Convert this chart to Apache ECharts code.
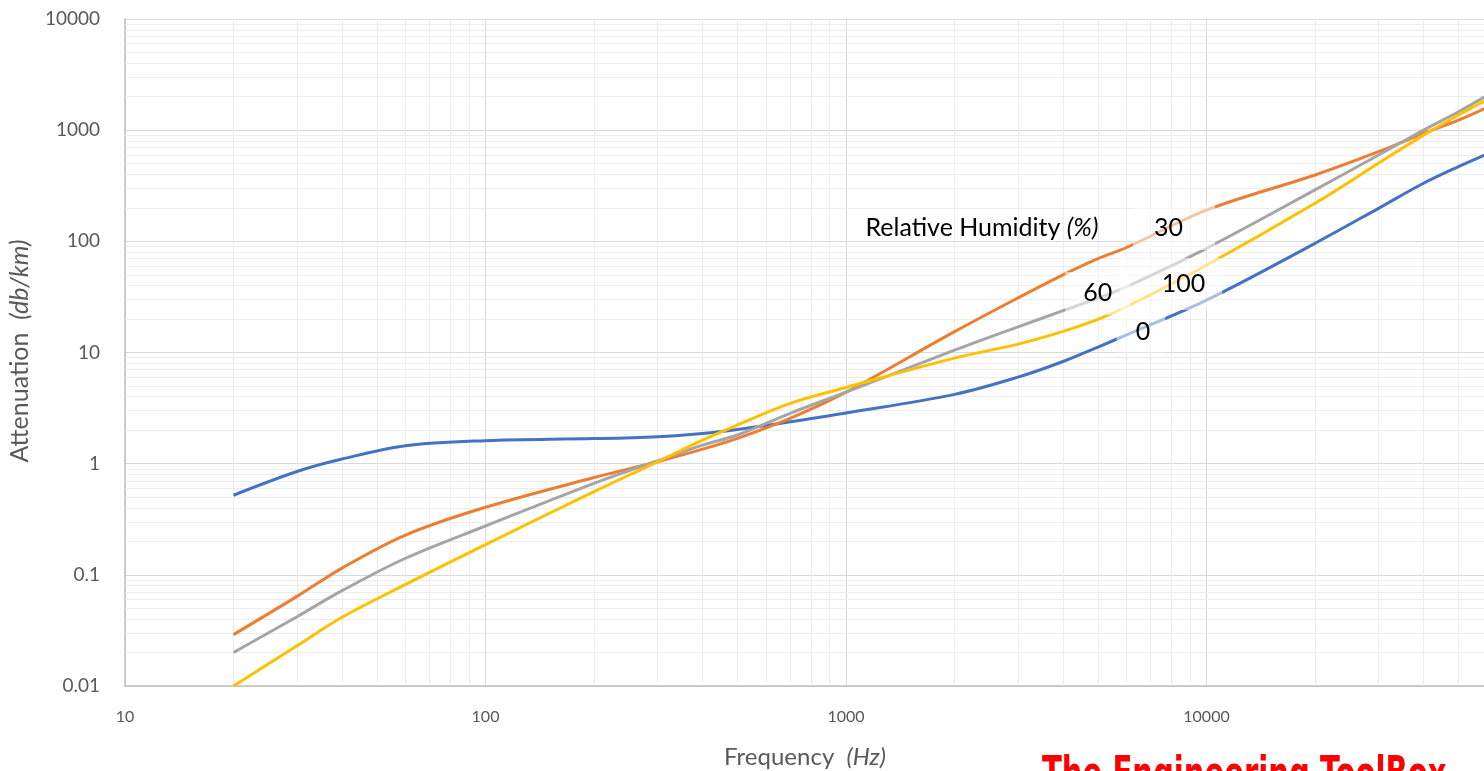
<!DOCTYPE html>
<html>
<head>
<meta charset="utf-8">
<script src="https://cdn.jsdelivr.net/npm/echarts@6/dist/echarts.min.js"></script>
<style>
  html, body { margin: 0; padding: 0; background: #fff; }
  #chart { width: 1484px; height: 771px; }
</style>
</head>
<body>
<div id="chart"></div>
<script>
var chart = echarts.init(document.getElementById('chart'));

// frequency (Hz) and attenuation (db/km) per relative humidity
const freq = [20, 30, 40, 60, 100, 200, 300, 400, 500, 700, 1000, 2000, 3000, 4000, 5000, 6000, 10000, 20000, 30000, 40000, 50000, 60000];
const rh0   = [0.52, 0.85, 1.1, 1.45, 1.61, 1.68, 1.75, 1.87, 2.03, 2.38, 2.85, 4.2, 6.0, 8.3, 11.2, 14.4, 29.6, 96, 198, 333, 470, 610];
const rh30  = [0.029, 0.064, 0.115, 0.228, 0.405, 0.75, 1.04, 1.35, 1.69, 2.56, 4.4, 15.4, 31, 50, 70, 88, 191, 395, 640, 937, 1230, 1600];
const rh60  = [0.020, 0.042, 0.072, 0.141, 0.275, 0.665, 1.06, 1.47, 1.81, 2.84, 4.4, 10.5, 17, 23.8, 30.8, 39, 86.5, 290, 598, 1000, 1466, 2050];
const rh100 = [0.010, 0.023, 0.0415, 0.082, 0.187, 0.56, 1.04, 1.63, 2.23, 3.49, 4.85, 8.9, 11.9, 15.5, 19.9, 25.8, 61, 220, 504, 902, 1370, 1880];

// minor grid values (2..9 of every decade)
const xMinor = [20, 30, 40, 50, 60, 70, 80, 90, 200, 300, 400, 500, 600, 700, 800, 900,
  2000, 3000, 4000, 5000, 6000, 7000, 8000, 9000, 20000, 30000, 40000, 50000, 60000, 70000, 80000, 90000];
const yMinor = [];
[0.01, 0.1, 1, 10, 100, 1000].forEach(d => { for (let k = 2; k <= 9; k++) yMinor.push(+(d * k).toPrecision(3)); });

const toPairs = (vals) => freq.map((f, i) => [f, vals[i]]);

const lineSeries = (name, vals, color) => ({
  name: name,
  type: 'line',
  data: toPairs(vals),
  smooth: 0.35,
  showSymbol: false,
  symbol: 'none',
  lineStyle: { width: 3, color: color },
  itemStyle: { color: color },
  z: 3
});

const fade = 'rgba(255,255,255,0.55)';
const labelFont = { fontFamily: 'Lato', fontSize: 25, color: '#000' };

var option = {
  animation: false,
  grid: { left: 125, top: 19, width: 1442, height: 667, containLabel: false, outerBoundsMode: 'none' },
  xAxis: {
    type: 'log',
    logBase: 10,
    min: 10,
    max: 100000,
    splitNumber: 4,
    axisLine: { show: true, lineStyle: { color: '#bfbfbf', width: 1.5 } },
    axisTick: { show: false },
    axisLabel: { fontFamily: 'Lato', fontSize: 16, color: '#595959', margin: 23,
      formatter: v => String(+(+v).toPrecision(6)) },
    splitLine: { show: true, lineStyle: { color: '#d9d9d9', width: 1 } }
  },
  yAxis: {
    type: 'log',
    logBase: 10,
    min: 0.01,
    max: 10000,
    splitNumber: 6,
    axisLine: { show: true, lineStyle: { color: '#bfbfbf', width: 1.5 } },
    axisTick: { show: false },
    axisLabel: { fontFamily: 'Lato', fontSize: 19, color: '#595959', margin: 25,
      formatter: v => String(+(+v).toPrecision(6)) },
    splitLine: { show: true, lineStyle: { color: '#d9d9d9', width: 1 } }
  },
  series: [
    {
      // minor gridlines
      type: 'line',
      data: [[freq[0], rh0[0]]],
      showSymbol: false,
      symbol: 'none',
      lineStyle: { opacity: 0 },
      silent: true,
      z: 1,
      markLine: {
        silent: true,
        z: 1,
        symbol: ['none', 'none'],
        label: { show: false },
        lineStyle: { color: '#ececec', width: 1, type: 'solid' },
        data: xMinor.map(v => ({ xAxis: v })).concat(yMinor.map(v => ({ yAxis: v })))
      }
    },
    lineSeries('0', rh0, '#4472c4'),
    lineSeries('30', rh30, '#ed7d31'),
    lineSeries('60', rh60, '#a5a5a5'),
    lineSeries('100', rh100, '#ffc000'),
    {
      // annotations
      type: 'line',
      data: [],
      silent: true,
      z: 10,
      markPoint: {
        z: 10,
        symbol: 'circle',
        symbolSize: 1,
        itemStyle: { color: 'rgba(0,0,0,0)' },
        data: [
          { coord: [1129, 132], label: { show: true, position: 'right', distance: 0,
              formatter: 'Relative Humidity {i|(%)}', ...labelFont,
              rich: { i: { fontStyle: 'italic', fontFamily: 'Lato', fontSize: 25, color: '#000' } } } },
          { coord: [8130, 133], label: { show: true, position: 'inside', formatter: '30', ...labelFont,
              backgroundColor: fade, padding: [10, 32, 10, 21] } },
          { coord: [4990, 34], label: { show: true, position: 'inside', formatter: '60', ...labelFont,
              backgroundColor: fade, padding: [16, 18, 2, 18] } },
          { coord: [7970, 41.3], label: { show: true, position: 'inside', formatter: '100', ...labelFont,
              backgroundColor: fade, padding: [18, 17, 9, 42] } },
          { coord: [6580, 15.3], label: { show: true, position: 'inside', formatter: '0', ...labelFont,
              backgroundColor: fade, padding: [8, 15, 8, 19] } }
        ]
      }
    }
  ],
  graphic: [
    {
      type: 'text',
      x: 805, y: 757,
      style: {
        text: 'Frequency  {i|(Hz)}',
        fontFamily: 'Lato', fontSize: 24, fill: '#595959',
        align: 'center', verticalAlign: 'middle',
        rich: { i: { fontStyle: 'italic', fontFamily: 'Lato', fontSize: 24, fill: '#595959' } }
      }
    },
    {
      type: 'text',
      x: 20, y: 351,
      rotation: Math.PI / 2,
      style: {
        text: 'Attenuation  {i|(db/km)}',
        fontFamily: 'Lato', fontSize: 25, fill: '#595959',
        align: 'center', verticalAlign: 'middle',
        rich: { i: { fontStyle: 'italic', fontFamily: 'Lato', fontSize: 25, fill: '#595959' } }
      }
    },
    {
      type: 'text',
      x: 1042, y: 754,
      scaleX: 0.703,
      style: {
        text: 'The Engineering ToolBox',
        fontFamily: 'DejaVu Sans Condensed', fontWeight: 'bold', fontSize: 46, fill: '#ff0000',
        align: 'left', verticalAlign: 'top'
      }
    }
  ]
};

chart.setOption(option);
</script>
</body>
</html>
